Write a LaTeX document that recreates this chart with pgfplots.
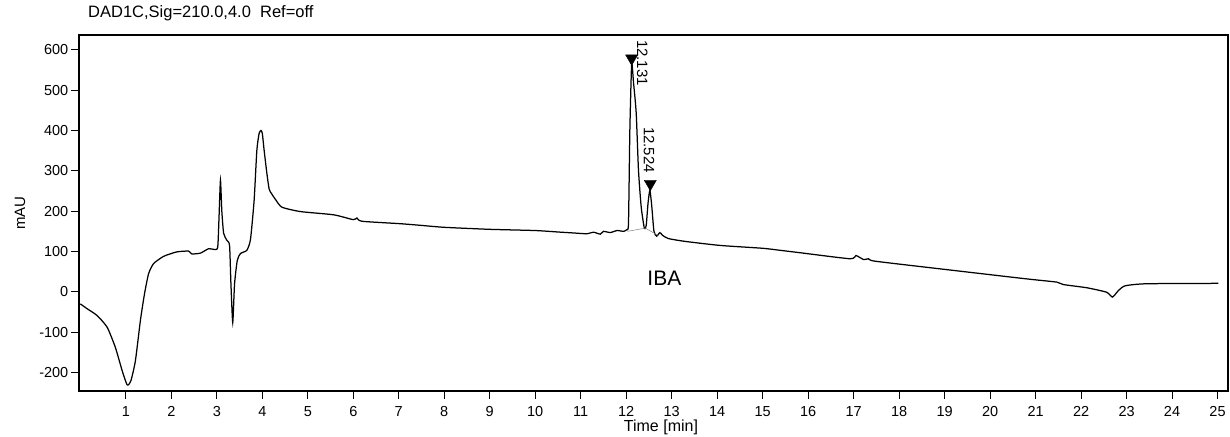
\documentclass[border=0pt]{standalone}
\usepackage{pgfplots}
\pgfplotsset{compat=1.18}
\usepackage{fontspec}
\setmainfont{Liberation Sans}
\begin{document}
\fontsize{15}{17}\selectfont
\begin{tikzpicture}
\path[use as bounding box] (-79pt,-45pt) rectangle (1151pt,391pt);
\begin{axis}[
  at={(0,0)}, anchor=south west,
  scale only axis, width=1149pt, height=356pt,
  xmin=-0.03, xmax=25.23, ymin=-246, ymax=637,
  xtick={1,...,25}, ytick={-200,-100,0,100,200,300,400,500,600},
  xtick pos=bottom, ytick pos=left,
  tick align=outside, major tick length=7.5pt,
  tick style={black, line width=1.1pt},
  axis line style={black, line width=1.3pt},
  /pgf/number format/assume math mode=true,
  ticklabel style={font=\fontsize{14.5}{17}\selectfont},
  xticklabel style={yshift=-3pt},
  yticklabel style={xshift=2pt},
  xlabel={Time [min]},
  xlabel style={at={(0.5065,0)}, anchor=base, yshift=-40pt, font=\fontsize{16}{18}\selectfont},
  ylabel={mAU},
  ylabel style={at={(0,0.5)}, anchor=center, rotate=0, yshift=59pt, font=\fontsize{15}{17}\selectfont},
  title={DAD1C,Sig=210.0,4.0\ \ Ref=off},
  title style={at={(0,1)}, anchor=base west, xshift=4pt, yshift=11pt, font=\fontsize{16.5}{18}\selectfont},
  clip=false,
]
\addplot[black, line width=1.25pt, smooth, tension=0.35] coordinates {
(0,-30) (0.15,-42) (0.37,-59) (0.59,-88) (0.77,-138) (0.92,-196) (1.03,-231)
(1.11,-221) (1.21,-171) (1.32,-71) (1.41,-5) (1.50,45) (1.61,70) (1.83,88)
(2.12,99) (2.38,101) (2.45,94) (2.64,96) (2.82,107) (2.95,105)
(3.02,111) (3.05,190) (3.08,277) (3.11,200) (3.15,145) (3.22,128) (3.28,115)
(3.31,20) (3.35,-76) (3.39,20) (3.45,78) (3.52,95)
(3.66,103) (3.74,130) (3.82,227) (3.88,351) (3.93,393) (3.97,400) (4.00,393)
(4.04,351) (4.10,294) (4.15,255) (4.20,244) (4.29,229) (4.43,210) (4.84,199)
(5.57,191) (6.0,179) (6.08,183) (6.19,175) (7.03,169)
(7.47,165) (8.0,160) (9.0,155) (10.0,152) (10.55,148) (10.84,146) (11.14,144)
(11.28,148) (11.43,143) (11.50,150) (11.65,147) (11.80,152) (11.94,150) (12.01,154)
(12.05,170) (12.08,400) (12.12,565) (12.16,520) (12.22,443) (12.27,301) (12.33,210)
(12.40,157) (12.44,165) (12.48,220) (12.52,252) (12.56,215) (12.61,150) (12.67,138)
(12.74,147) (12.80,140) (12.93,132) (13.3,125) (14.07,115) (15.0,108) (15.38,103)
(15.82,97) (16.92,82) (17.05,90) (17.22,80) (17.33,82) (17.47,76) (19.05,55)
(20.81,32) (21.47,24) (21.61,18) (22.13,10) (22.56,-1) (22.69,-13) (22.82,3)
(22.97,15) (23.44,20) (25.02,21)
};
\addplot[gray, line width=0.5pt] coordinates {(12.03,150) (12.42,158) (12.70,140)};
\addplot[only marks, mark=triangle*, mark size=7pt, mark options={rotate=180, fill=black, draw=black}] coordinates {(12.12,579) (12.53,268)};
\node[rotate=-90, anchor=south west, inner sep=0pt, font=\fontsize{15}{17}\selectfont] at (axis cs:12.23,625) {12.131};
\node[rotate=-90, anchor=south west, inner sep=0pt, font=\fontsize{15}{17}\selectfont] at (axis cs:12.38,409) {12.524};
\node[font=\fontsize{21}{23}\selectfont] at (axis cs:12.84,33) {IBA};
\end{axis}
\end{tikzpicture}
\end{document}
